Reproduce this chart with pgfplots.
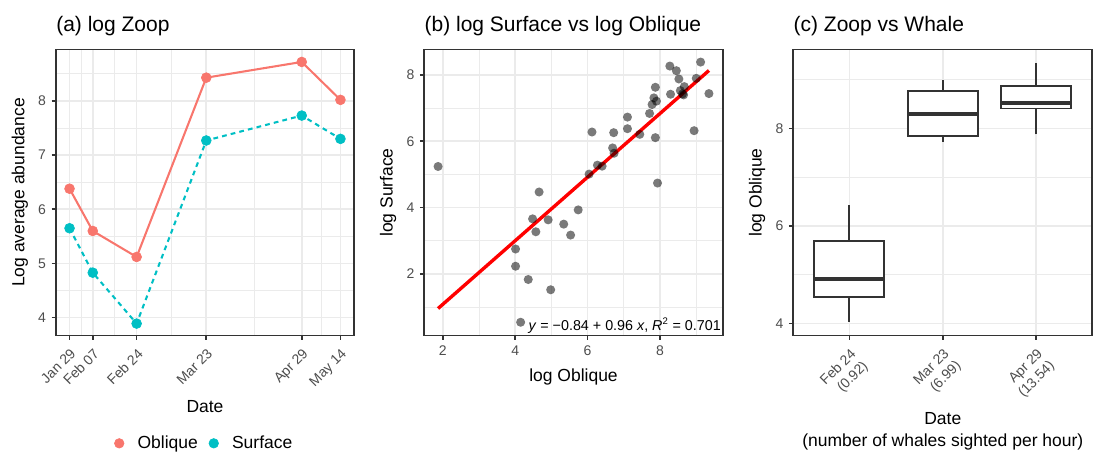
\documentclass[border=0pt]{standalone}
\usepackage{fontspec}
\setmainfont{Liberation Sans}
\usepackage{pgfplots}
\usepackage{pgfplotstable}
\pgfplotsset{compat=1.18}
\definecolor{gg20}{HTML}{333333}
\definecolor{gg30}{HTML}{4D4D4D}
\definecolor{gg92}{HTML}{EBEBEB}
\definecolor{obl}{HTML}{F8766D}
\definecolor{sur}{HTML}{00BFC4}
\pgfplotstableread{
x y
1.87 5.24
4.01 2.75
4.01 2.23
4.36 1.83
4.15 0.54
4.98 1.52
4.48 3.66
4.57 3.27
4.66 4.47
4.91 3.63
5.34 3.50
5.53 3.17
5.74 3.93
6.04 5.01
6.12 6.28
6.27 5.28
6.40 5.25
6.69 5.80
6.73 5.64
6.72 6.26
7.10 6.73
7.10 6.38
7.44 6.21
7.71 6.84
7.78 7.11
7.83 7.31
7.87 7.63
7.90 7.21
7.87 6.11
7.93 4.74
8.27 8.27
8.29 7.42
8.45 8.13
8.52 7.88
8.56 7.53
8.62 7.43
8.67 7.65
8.65 7.40
8.94 6.32
9.00 7.90
9.12 8.39
9.35 7.44
}\scatterdata
\pgfplotsset{
  ggbw/.style={
    scale only axis,
    axis line style={draw=gg20, line width=1.07pt},
    tick style={draw=gg20, line width=1.07pt},
    tick align=outside,
    major tick length=2.75pt,
    minor tick length=0pt,
    xtick pos=left, ytick pos=left,
    grid=both,
    major grid style={draw=gg92, line width=1.07pt},
    minor grid style={draw=gg92, line width=0.53pt},
    tick label style={font=\fontsize{8.8}{10.5}\selectfont, text=gg30},
    /pgf/number format/assume math mode=true,
    label style={font=\fontsize{11}{13.6}\selectfont, text=black},
    every axis title shift=0pt,
    title style={font=\fontsize{13.2}{15}\selectfont, at={(axis description cs:0,1)}, anchor=base west, inner sep=0pt, yshift=11.3pt},
    ylabel style={at={(axis description cs:-0.121,0.5)}, anchor=center},
    scaled ticks=false,
  }
}
\begin{document}
\begin{tikzpicture}
\useasboundingbox (0,0) rectangle (695.45pt,284.22pt);
% (a)
\begin{axis}[ggbw,
  at={(35.21pt,73.26pt)}, anchor=south west,
  width=187.38pt, height=179.84pt,
  xmin=23.75, xmax=139.25, ymin=3.67, ymax=8.95,
  xtick={29,38,55,82,119,134},
  xticklabels={Jan 29,Feb 07,Feb 24,Mar 23,Apr 29,May 14},
  minor xtick={33.5,46.5,68.5,100.5,126.5},
  ytick={4,5,6,7,8},
  minor ytick={4.5,5.5,6.5,7.5,8.5},
  xticklabel style={rotate=45, anchor=north east},
  title={(a) log Zoop},
  xlabel={Date}, ylabel={Log average abundance},
  xlabel style={at={(axis description cs:0.5,-0.25)}, anchor=center},
  legend style={at={(axis description cs:0.5,-0.377)}, anchor=center, draw=none, fill=none,
    font=\fontsize{11}{13}\selectfont, legend columns=2,
    /tikz/every odd column/.append style={column sep=6.5pt},
    /tikz/every even column/.append style={column sep=5pt}},
  legend cell align=left,
  legend image code/.code={\draw[#1] plot coordinates {(0pt,0pt)};},
]
\addplot[obl, line width=1.3pt, forget plot] coordinates {(29,6.38)(38,5.60)(55,5.12)(82,8.43)(119,8.72)(134,8.02)};
\addplot[sur, line width=1.3pt, dash pattern=on 3pt off 2.6pt, forget plot] coordinates {(29,5.65)(38,4.83)(55,3.89)(82,7.27)(119,7.73)(134,7.30)};
\addplot[obl, only marks, mark=*, mark size=3.1pt, mark options={draw=obl, fill=obl, line width=0.4pt}, forget plot] coordinates {(29,6.38)(38,5.60)(55,5.12)(82,8.43)(119,8.72)(134,8.02)};
\addplot[sur, only marks, mark=*, mark size=3.1pt, mark options={draw=sur, fill=sur, line width=0.4pt}, forget plot] coordinates {(29,5.65)(38,4.83)(55,3.89)(82,7.27)(119,7.73)(134,7.30)};
\addlegendimage{obl, only marks, mark=*, mark size=3.0pt, mark options={draw=obl, fill=obl, line width=0.4pt}}
\addlegendentry{Oblique}
\addlegendimage{sur, only marks, mark=*, mark size=3.0pt, mark options={draw=sur, fill=sur, line width=0.4pt}}
\addlegendentry{Surface}
\end{axis}
% (b)
\begin{axis}[ggbw,
  at={(266.80pt,73.26pt)}, anchor=south west,
  width=187.63pt, height=179.84pt,
  xmin=1.49, xmax=9.73, ymin=0.14, ymax=8.77,
  xtick={2,4,6,8}, minor xtick={3,5,7,9},
  ytick={2,4,6,8}, minor ytick={1,3,5,7},
  title={(b) log Surface vs log Oblique},
  xlabel={log Oblique}, ylabel={log Surface},
  xlabel style={at={(axis description cs:0.5,-0.144)}, anchor=center},
]
\addplot[black, only marks, mark=*, mark size=2.85pt, mark options={fill=black, fill opacity=0.52, draw opacity=0}] table[x=x,y=y] {\scatterdata};
\addplot[red, line width=2.13pt] coordinates {(1.87,0.955) (9.35,8.136)};
\node[anchor=south east, inner sep=1pt, font=\fontsize{9}{10}\selectfont] at (rel axis cs:1,0) {\textit{y} = −0.84 + 0.96 \textit{x}, \textit{R}\textsuperscript{2} = 0.701};
\end{axis}
% (c)
\begin{axis}[ggbw,
  at={(498.83pt,73.26pt)}, anchor=south west,
  width=188.01pt, height=179.84pt,
  xmin=0.4, xmax=3.6, ymin=3.755, ymax=9.62,
  xtick={1,2,3},
  xticklabels={{Feb 24\\(0.92)},{Mar 23\\(6.99)},{Apr 29\\(13.54)}},
  xticklabel style={rotate=45, anchor=north east, align=right},
  ytick={4,6,8}, minor ytick={5,7,9},
  title={(c) Zoop vs Whale},
  xlabel={Date\\(number of whales sighted per hour)}, ylabel={log Oblique},
  xlabel style={align=center, at={(axis description cs:0.5,-0.335)}, anchor=center},
]
% whiskers
\addplot[gg20, line width=1.2pt] coordinates {(1,4.03)(1,4.54)};
\addplot[gg20, line width=1.2pt] coordinates {(1,5.70)(1,6.44)};
\addplot[gg20, line width=1.2pt] coordinates {(2,7.73)(2,7.84)};
\addplot[gg20, line width=1.2pt] coordinates {(2,8.76)(2,8.99)};
\addplot[gg20, line width=1.2pt] coordinates {(3,7.88)(3,8.41)};
\addplot[gg20, line width=1.2pt] coordinates {(3,8.88)(3,9.35)};
% boxes
\addplot[draw=gg20, fill=white, line width=1.2pt] coordinates {(0.625,4.54)(1.375,4.54)(1.375,5.70)(0.625,5.70)} -- cycle;
\addplot[draw=gg20, fill=white, line width=1.2pt] coordinates {(1.625,7.84)(2.375,7.84)(2.375,8.76)(1.625,8.76)} -- cycle;
\addplot[draw=gg20, fill=white, line width=1.2pt] coordinates {(2.625,8.41)(3.375,8.41)(3.375,8.88)(2.625,8.88)} -- cycle;
% medians
\addplot[gg20, line width=2.4pt] coordinates {(0.625,4.91)(1.375,4.91)};
\addplot[gg20, line width=2.4pt] coordinates {(1.625,8.29)(2.375,8.29)};
\addplot[gg20, line width=2.4pt] coordinates {(2.625,8.52)(3.375,8.52)};
\end{axis}
\end{tikzpicture}
\end{document}
